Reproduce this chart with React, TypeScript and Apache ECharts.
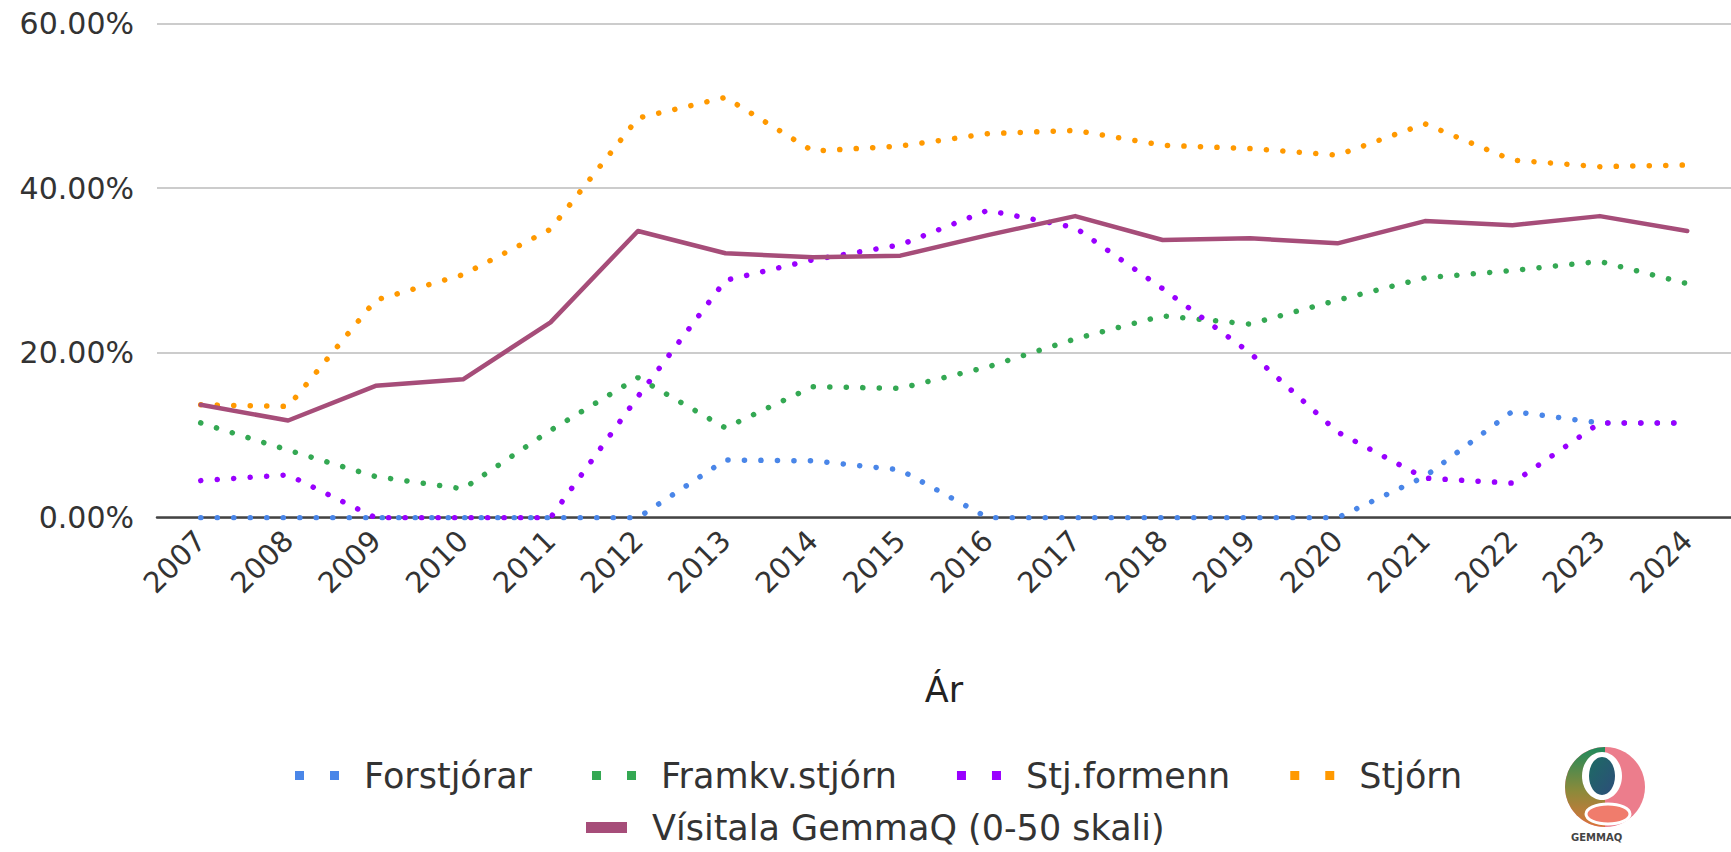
import React, { useEffect, useRef } from "react";
import * as echarts from "echarts";

const years = ["2007", "2008", "2009", "2010", "2011", "2012", "2013", "2014", "2015", "2016", "2017", "2018", "2019", "2020", "2021", "2022", "2023", "2024"];
const forstjorar = [0, 0, 0, 0, 0, 0, 7.0, 6.9, 5.8, 0, 0, 0, 0, 0, 5.0, 12.9, 11.5, 11.5];
const framkvStjorn = [11.5, 8.2, 5.0, 3.5, 10.6, 17.0, 10.9, 15.9, 15.7, 18.3, 21.7, 24.5, 23.5, 26.4, 29.1, 30.0, 31.1, 28.4];
const stjFormenn = [4.5, 5.2, 0, 0, 0, 14.7, 28.8, 31.3, 33.1, 37.3, 35.2, 27.8, 20.0, 10.4, 4.8, 4.2, 11.5, 11.5];
const stjorn = [13.7, 13.5, 26.4, 29.5, 35.0, 48.5, 51.0, 44.5, 45.1, 46.6, 47.0, 45.2, 44.8, 44.0, 47.8, 43.4, 42.6, 42.8];
const visitala = [13.7, 11.8, 16.0, 16.8, 23.7, 34.8, 32.1, 31.6, 31.8, 34.3, 36.6, 33.7, 33.9, 33.3, 36.0, 35.5, 36.6, 34.8];

const seriesNames = ["Forstjórar", "Framkv.stjórn", "Stj.formenn", "Stjórn", "Vísitala GemmaQ (0-50 skali)"];
const seriesColors = ["#4a86e8", "#34a853", "#9900ff", "#ff9900", "#a64d79"];
const yTicks = { min: 0, max: 60, interval: 20 };

const FONT = "DejaVu Sans";
const dotIcon = "path://M0,0h9v9h-9z M35,0h9v9h-9z";

export default function App() {
  const ref = useRef<HTMLDivElement>(null);
  useEffect(() => {
    if (!ref.current) return;
    const chart = echarts.init(ref.current, null, { renderer: "svg" });
    const dataSets = [forstjorar, framkvStjorn, stjFormenn, stjorn, visitala];
    const series = dataSets.map((d, i) => {
      const dotted = i < 4;
      return {
        name: seriesNames[i],
        type: "line",
        data: d,
        color: seriesColors[i],
        symbol: "none",
        z: 2 + i,
        lineStyle: dotted
          ? { color: seriesColors[i], width: 5.5, type: [0.1, 16.4], cap: "round" }
          : { color: seriesColors[i], width: 4.5, cap: "round", join: "round" },
      };
    });
    const option = {
      animation: false,
      backgroundColor: "#ffffff",
      textStyle: { fontFamily: FONT },
      grid: { left: 157, right: -15, top: 23.3, bottom: 334.3 },
      xAxis: {
        type: "category",
        data: years,
        boundaryGap: true,
        axisTick: { show: false },
        axisLine: { show: true, lineStyle: { color: "#444444", width: 2.5 } },
        axisLabel: { rotate: 45, fontSize: 29, color: "#333333", margin: 18, fontFamily: FONT },
        name: "Ár",
        nameLocation: "middle",
        nameGap: 155,
        nameTextStyle: { fontSize: 35, color: "#222222", fontFamily: FONT },
      },
      yAxis: {
        type: "value",
        min: yTicks.min,
        max: yTicks.max,
        interval: yTicks.interval,
        axisLine: { show: false },
        axisTick: { show: false },
        splitLine: { lineStyle: { color: "#cccccc", width: 2 } },
        axisLabel: {
          fontSize: 30,
          color: "#333333",
          margin: 23,
          fontFamily: FONT,
          formatter: (v: number) => v.toFixed(2) + "%",
        },
      },
      legend: [
        {
          left: 290,
          top: 753,
          itemWidth: 44,
          itemHeight: 9,
          itemGap: 60,
          selectedMode: false,
          itemStyle: { borderWidth: 0 },
          textStyle: { fontSize: 35, color: "#333333", fontFamily: FONT, padding: [0, 0, 0, 20] },
          data: seriesNames.slice(0, 4).map((n) => ({ name: n, icon: dotIcon })),
        },
        {
          left: 581,
          top: 805,
          itemWidth: 41,
          itemHeight: 11,
          selectedMode: false,
          itemStyle: { borderWidth: 0 },
          textStyle: { fontSize: 35, color: "#333333", fontFamily: FONT, padding: [0, 0, 0, 20] },
          data: [{ name: seriesNames[4], icon: "rect" }],
        },
      ],
      series,
      graphic: [
        {
          type: "group",
          left: 1565,
          top: 747,
          children: [
            { type: "circle", shape: { cx: 41, cy: 40, r: 40 }, style: { fill: "#ec7d8c" } },
            {
              type: "sector",
              shape: { cx: 41, cy: 40, r: 40, r0: 0, startAngle: Math.PI / 2, endAngle: (Math.PI * 3) / 2 },
              style: {
                fill: new echarts.graphic.LinearGradient(0, 0, 0, 1, [
                  { offset: 0, color: "#1f8a5c" },
                  { offset: 0.55, color: "#8c8a3a" },
                  { offset: 1, color: "#d9743a" },
                ]),
              },
            },
            { type: "ellipse", shape: { cx: 38, cy: 29, rx: 20, ry: 24 }, style: { fill: "#ffffff" } },
            {
              type: "ellipse",
              shape: { cx: 38, cy: 29, rx: 13, ry: 19 },
              style: {
                fill: new echarts.graphic.LinearGradient(0, 0, 1, 1, [
                  { offset: 0, color: "#1d6b63" },
                  { offset: 1, color: "#2d4d7a" },
                ]),
              },
            },
            { type: "ellipse", shape: { cx: 44, cy: 67, rx: 22, ry: 10 }, style: { fill: "#f07c6c", stroke: "#ffffff", lineWidth: 3 } },
          ],
        },
        {
          type: "text",
          left: 1571,
          top: 832,
          style: { text: "GEMMAQ", fontSize: 10, fontWeight: "bold", fill: "#444444", fontFamily: FONT },
        },
      ],
    };
    chart.setOption(option as any);
    return () => chart.dispose();
  }, []);
  return <div ref={ref} style={{ position: "absolute", left: 0, top: 0, width: 1731, height: 852 }} />;
}
